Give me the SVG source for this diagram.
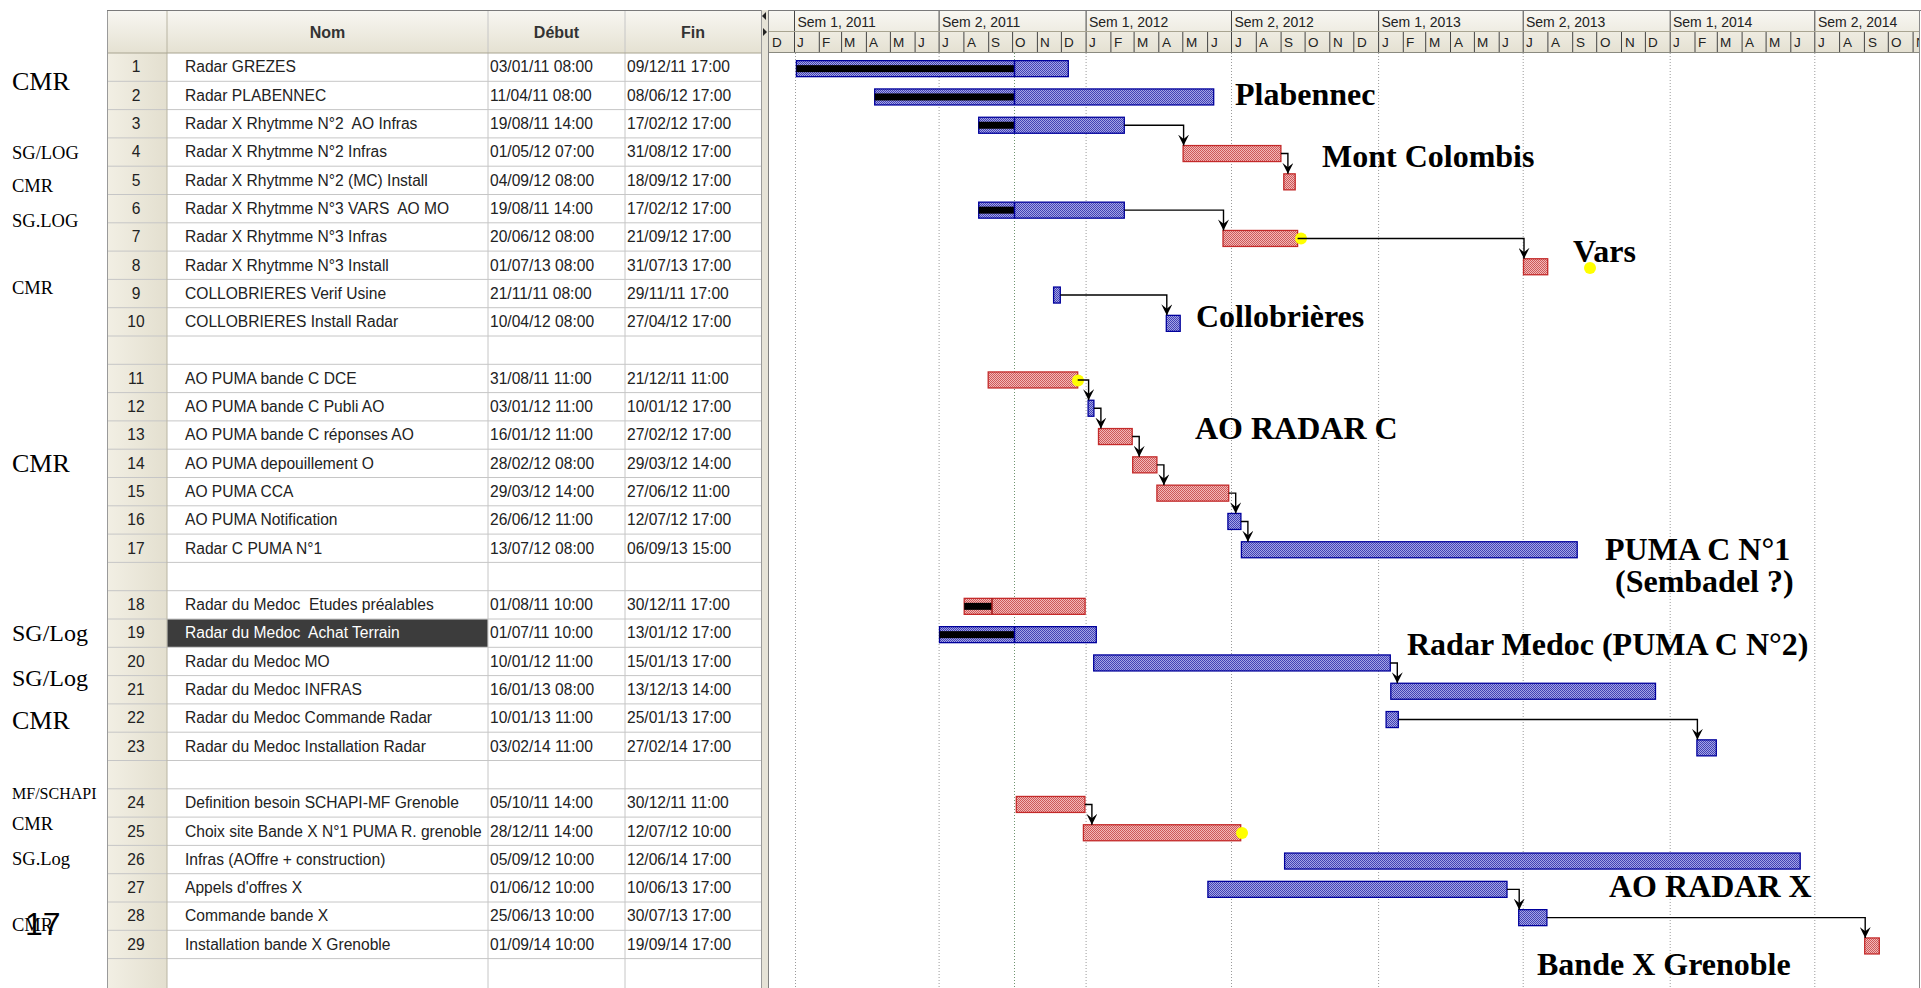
<svg xmlns="http://www.w3.org/2000/svg" width="1921" height="988" viewBox="0 0 1921 988">
<defs>
<style>
.t{font-family:"Liberation Sans",Arial,sans-serif;font-size:15.6px;fill:#222}
.n{text-anchor:middle}
.h{font-family:"Liberation Sans",Arial,sans-serif;font-weight:bold;font-size:16px;fill:#333;text-anchor:middle}
.lab{font-family:"Liberation Serif","Times New Roman",serif;fill:#000}
.big{font-family:"Liberation Serif","Times New Roman",serif;font-weight:bold;font-size:32px;fill:#000}
.sem{font-family:"Liberation Sans",Arial,sans-serif;font-size:14px;fill:#222}
.mon{font-family:"Liberation Sans",Arial,sans-serif;font-size:13.5px;fill:#222}
.grid{stroke:#c6c6c6;stroke-width:1}
.bb{fill:url(#pb);stroke:#00009c;stroke-width:1.3}
.br{fill:url(#pr);stroke:#c42a2a;stroke-width:1.3}
.prog{fill:#000}
.conn{fill:none;stroke:#000;stroke-width:1.4;marker-end:url(#arr)}
.vl{stroke:#9a9a9a;stroke-width:1;stroke-dasharray:1 2}
.tk{stroke:#444;stroke-width:1}
.dot{fill:#ffff00}
</style>
<pattern id="pb" width="2" height="2" patternUnits="userSpaceOnUse"><rect width="2" height="2" fill="#a4a4e6"/><rect width="1" height="1" fill="#4242b4"/><rect x="1" y="1" width="1" height="1" fill="#4242b4"/></pattern>
<pattern id="pr" width="2" height="2" patternUnits="userSpaceOnUse"><rect width="2" height="2" fill="#f4b8b8"/><rect width="1" height="1" fill="#cc5a5a"/><rect x="1" y="1" width="1" height="1" fill="#cc5a5a"/></pattern>
<linearGradient id="hg" x1="0" y1="0" x2="0" y2="1"><stop offset="0" stop-color="#f8f7f2"/><stop offset="1" stop-color="#e5e1d2"/></linearGradient>
<linearGradient id="ng" x1="0" y1="0" x2="1" y2="0"><stop offset="0" stop-color="#f2efe4"/><stop offset="1" stop-color="#e3dfcf"/></linearGradient>
<marker id="arr" viewBox="0 0 10 10" refX="10" refY="5" markerWidth="11" markerHeight="11" markerUnits="userSpaceOnUse" orient="auto"><path d="M0,0 L10,5 L0,10 L4,5 z" fill="#000"/></marker>
<clipPath id="gc"><rect x="769" y="10" width="1150" height="978"/></clipPath>
</defs>
<rect width="1921" height="988" fill="#fff"/>

<g id="table">
<rect x="107" y="53" width="60" height="935" fill="url(#ng)"/>
<rect x="107" y="10" width="654" height="43" fill="url(#hg)"/>
<g class="grid">
<line x1="107" y1="81.3" x2="761" y2="81.3"/><line x1="107" y1="109.6" x2="761" y2="109.6"/><line x1="107" y1="137.9" x2="761" y2="137.9"/><line x1="107" y1="166.2" x2="761" y2="166.2"/><line x1="107" y1="194.5" x2="761" y2="194.5"/><line x1="107" y1="222.8" x2="761" y2="222.8"/><line x1="107" y1="251.1" x2="761" y2="251.1"/><line x1="107" y1="279.4" x2="761" y2="279.4"/><line x1="107" y1="307.7" x2="761" y2="307.7"/><line x1="107" y1="336" x2="761" y2="336"/><line x1="107" y1="364.3" x2="761" y2="364.3"/><line x1="107" y1="392.6" x2="761" y2="392.6"/><line x1="107" y1="420.9" x2="761" y2="420.9"/><line x1="107" y1="449.2" x2="761" y2="449.2"/><line x1="107" y1="477.5" x2="761" y2="477.5"/><line x1="107" y1="505.8" x2="761" y2="505.8"/><line x1="107" y1="534.1" x2="761" y2="534.1"/><line x1="107" y1="562.4" x2="761" y2="562.4"/><line x1="107" y1="590.7" x2="761" y2="590.7"/><line x1="107" y1="619" x2="761" y2="619"/><line x1="107" y1="647.3" x2="761" y2="647.3"/><line x1="107" y1="675.6" x2="761" y2="675.6"/><line x1="107" y1="703.9" x2="761" y2="703.9"/><line x1="107" y1="732.2" x2="761" y2="732.2"/><line x1="107" y1="760.5" x2="761" y2="760.5"/><line x1="107" y1="788.8" x2="761" y2="788.8"/><line x1="107" y1="817.1" x2="761" y2="817.1"/><line x1="107" y1="845.4" x2="761" y2="845.4"/><line x1="107" y1="873.7" x2="761" y2="873.7"/><line x1="107" y1="902" x2="761" y2="902"/><line x1="107" y1="930.3" x2="761" y2="930.3"/><line x1="107" y1="958.6" x2="761" y2="958.6"/>
<line x1="488" y1="10" x2="488" y2="988"/><line x1="625" y1="10" x2="625" y2="988"/>
</g>
<line x1="167" y1="10" x2="167" y2="988" stroke="#b8b4a2"/>
<line x1="107" y1="53" x2="761" y2="53" stroke="#a8a490"/>
<line x1="107.5" y1="10" x2="107.5" y2="988" stroke="#9a9a9a"/>
<line x1="107" y1="10.5" x2="1921" y2="10.5" stroke="#7a7a7a"/>
<text class="h" x="327.5" y="37.5">Nom</text>
<text class="h" x="556.5" y="37.5">Début</text>
<text class="h" x="693" y="37.5">Fin</text>
<rect x="761" y="10" width="8" height="978" fill="#e6e3d7"/>
<line x1="761.5" y1="10" x2="761.5" y2="988" stroke="#9a9a9a"/>
<line x1="768.5" y1="10" x2="768.5" y2="988" stroke="#808080"/>
<path d="M766,12 L762,16 L766,20 z" fill="#222"/>
<path d="M763,28 L767,32 L763,36 z" fill="#222"/>
</g>

<g id="timescale">
<rect x="769" y="11" width="1150" height="41" fill="url(#hg)"/>
<line x1="769" y1="31.5" x2="1919" y2="31.5" stroke="#a8a490"/>
<line x1="769" y1="52.5" x2="1919" y2="52.5" stroke="#8a8a80"/>
<line x1="1919.5" y1="10" x2="1919.5" y2="988" stroke="#8a8a8a"/>
<g class="tk">
<line x1="794.5" y1="11" x2="794.5" y2="31"/><line x1="939.1" y1="11" x2="939.1" y2="31"/><line x1="1086.1" y1="11" x2="1086.1" y2="31"/><line x1="1231.5" y1="11" x2="1231.5" y2="31"/><line x1="1378.6" y1="11" x2="1378.6" y2="31"/><line x1="1523.2" y1="11" x2="1523.2" y2="31"/><line x1="1670.2" y1="11" x2="1670.2" y2="31"/><line x1="1814.8" y1="11" x2="1814.8" y2="31"/>
</g>
<text class="sem" x="797.5" y="27">Sem 1, 2011</text>
<text class="sem" x="942" y="27">Sem 2, 2011</text>
<text class="sem" x="1089" y="27">Sem 1, 2012</text>
<text class="sem" x="1234.5" y="27">Sem 2, 2012</text>
<text class="sem" x="1381.5" y="27">Sem 1, 2013</text>
<text class="sem" x="1526" y="27">Sem 2, 2013</text>
<text class="sem" x="1673" y="27">Sem 1, 2014</text>
<text class="sem" x="1818" y="27">Sem 2, 2014</text>
<g clip-path="url(#gc)">
<g class="tk">
<line x1="794.5" y1="32" x2="794.5" y2="52"/><line x1="819.3" y1="32" x2="819.3" y2="52"/><line x1="841.6" y1="32" x2="841.6" y2="52"/><line x1="866.4" y1="32" x2="866.4" y2="52"/><line x1="890.4" y1="32" x2="890.4" y2="52"/><line x1="915.1" y1="32" x2="915.1" y2="52"/><line x1="939.1" y1="32" x2="939.1" y2="52"/><line x1="963.9" y1="32" x2="963.9" y2="52"/><line x1="988.7" y1="32" x2="988.7" y2="52"/><line x1="1012.6" y1="32" x2="1012.6" y2="52"/><line x1="1037.4" y1="32" x2="1037.4" y2="52"/><line x1="1061.4" y1="32" x2="1061.4" y2="52"/>
<line x1="1086.1" y1="32" x2="1086.1" y2="52"/><line x1="1110.9" y1="32" x2="1110.9" y2="52"/><line x1="1134.1" y1="32" x2="1134.1" y2="52"/><line x1="1158.8" y1="32" x2="1158.8" y2="52"/><line x1="1182.8" y1="32" x2="1182.8" y2="52"/><line x1="1207.6" y1="32" x2="1207.6" y2="52"/><line x1="1231.5" y1="32" x2="1231.5" y2="52"/><line x1="1256.3" y1="32" x2="1256.3" y2="52"/><line x1="1281.1" y1="32" x2="1281.1" y2="52"/><line x1="1305.1" y1="32" x2="1305.1" y2="52"/><line x1="1329.8" y1="32" x2="1329.8" y2="52"/><line x1="1353.8" y1="32" x2="1353.8" y2="52"/>
<line x1="1378.6" y1="32" x2="1378.6" y2="52"/><line x1="1403.3" y1="32" x2="1403.3" y2="52"/><line x1="1425.7" y1="32" x2="1425.7" y2="52"/><line x1="1450.5" y1="32" x2="1450.5" y2="52"/><line x1="1474.4" y1="32" x2="1474.4" y2="52"/><line x1="1499.2" y1="32" x2="1499.2" y2="52"/><line x1="1523.2" y1="32" x2="1523.2" y2="52"/><line x1="1547.9" y1="32" x2="1547.9" y2="52"/><line x1="1572.7" y1="32" x2="1572.7" y2="52"/><line x1="1596.7" y1="32" x2="1596.7" y2="52"/><line x1="1621.5" y1="32" x2="1621.5" y2="52"/><line x1="1645.4" y1="32" x2="1645.4" y2="52"/>
<line x1="1670.2" y1="32" x2="1670.2" y2="52"/><line x1="1695" y1="32" x2="1695" y2="52"/><line x1="1717.3" y1="32" x2="1717.3" y2="52"/><line x1="1742.1" y1="32" x2="1742.1" y2="52"/><line x1="1766.1" y1="32" x2="1766.1" y2="52"/><line x1="1790.8" y1="32" x2="1790.8" y2="52"/><line x1="1814.8" y1="32" x2="1814.8" y2="52"/><line x1="1839.6" y1="32" x2="1839.6" y2="52"/><line x1="1864.4" y1="32" x2="1864.4" y2="52"/><line x1="1888.3" y1="32" x2="1888.3" y2="52"/><line x1="1913.1" y1="32" x2="1913.1" y2="52"/>
</g>
<g class="mon">
<text x="772" y="47">D</text>
<text x="797" y="47">J</text><text x="822" y="47">F</text><text x="844" y="47">M</text><text x="869" y="47">A</text><text x="893" y="47">M</text><text x="918" y="47">J</text><text x="942" y="47">J</text><text x="967" y="47">A</text><text x="991" y="47">S</text><text x="1015" y="47">O</text><text x="1040" y="47">N</text><text x="1064" y="47">D</text>
<text x="1089" y="47">J</text><text x="1114" y="47">F</text><text x="1137" y="47">M</text><text x="1162" y="47">A</text><text x="1186" y="47">M</text><text x="1211" y="47">J</text><text x="1235" y="47">J</text><text x="1259" y="47">A</text><text x="1284" y="47">S</text><text x="1308" y="47">O</text><text x="1333" y="47">N</text><text x="1357" y="47">D</text>
<text x="1382" y="47">J</text><text x="1406" y="47">F</text><text x="1429" y="47">M</text><text x="1454" y="47">A</text><text x="1477" y="47">M</text><text x="1502" y="47">J</text><text x="1526" y="47">J</text><text x="1551" y="47">A</text><text x="1576" y="47">S</text><text x="1600" y="47">O</text><text x="1625" y="47">N</text><text x="1648" y="47">D</text>
<text x="1673" y="47">J</text><text x="1698" y="47">F</text><text x="1720" y="47">M</text><text x="1745" y="47">A</text><text x="1769" y="47">M</text><text x="1794" y="47">J</text><text x="1818" y="47">J</text><text x="1843" y="47">A</text><text x="1868" y="47">S</text><text x="1891" y="47">O</text><text x="1916" y="47">N</text>
</g>
</g>
</g>

<g id="gridlines">
<line class="vl" x1="795.5" y1="53" x2="795.5" y2="988"/>
<line class="vl" x1="939.1" y1="53" x2="939.1" y2="988"/>
<line class="vl" x1="1086.1" y1="53" x2="1086.1" y2="988"/>
<line class="vl" x1="1231.5" y1="53" x2="1231.5" y2="988"/>
<line class="vl" x1="1378.6" y1="53" x2="1378.6" y2="988"/>
<line class="vl" x1="1523.2" y1="53" x2="1523.2" y2="988"/>
<line class="vl" x1="1670.2" y1="53" x2="1670.2" y2="988"/>
<line class="vl" x1="1814.8" y1="53" x2="1814.8" y2="988"/>
<line x1="1014.5" y1="53" x2="1014.5" y2="988" stroke="#6f956f" stroke-width="1" stroke-dasharray="1 2"/>
</g>

<g id="task-1"><text class="t n" x="136" y="72.45">1</text><text class="t" x="185" y="72.45">Radar GREZES</text><text class="t" x="490" y="72.45">03/01/11 08:00</text><text class="t" x="627" y="72.45">09/12/11 17:00</text>
<rect class="bb" x="796.4" y="60.65" width="271.9" height="16"/><rect class="prog" x="796.4" y="65.15" width="218.1" height="7"/><line x1="1014.5" y1="60.65" x2="1014.5" y2="76.65" stroke="#00009c" stroke-width="1.5"/></g>
<g id="task-2"><text class="t n" x="136" y="100.75">2</text><text class="t" x="185" y="100.75">Radar PLABENNEC</text><text class="t" x="490" y="100.75">11/04/11 08:00</text><text class="t" x="627" y="100.75">08/06/12 17:00</text>
<rect class="bb" x="874.7" y="88.95" width="339" height="16"/><rect class="prog" x="874.7" y="93.45" width="139.8" height="7"/><line x1="1014.5" y1="88.95" x2="1014.5" y2="104.95" stroke="#00009c" stroke-width="1.5"/></g>
<g id="task-3"><text class="t n" x="136" y="129.05">3</text><text class="t" x="185" y="129.05" xml:space="preserve">Radar X Rhytmme N°2  AO Infras</text><text class="t" x="490" y="129.05">19/08/11 14:00</text><text class="t" x="627" y="129.05">17/02/12 17:00</text>
<rect class="bb" x="978.7" y="117.25" width="145.6" height="16"/><rect class="prog" x="978.7" y="121.75" width="35.8" height="7"/><line x1="1014.5" y1="117.25" x2="1014.5" y2="133.25" stroke="#00009c" stroke-width="1.5"/></g>
<g id="task-4"><text class="t n" x="136" y="157.35">4</text><text class="t" x="185" y="157.35">Radar X Rhytmme N°2 Infras</text><text class="t" x="490" y="157.35">01/05/12 07:00</text><text class="t" x="627" y="157.35">31/08/12 17:00</text>
<rect class="br" x="1183.1" y="145.55" width="97.8" height="16"/></g>
<g id="task-5"><text class="t n" x="136" y="185.65">5</text><text class="t" x="185" y="185.65">Radar X Rhytmme N°2 (MC) Install</text><text class="t" x="490" y="185.65">04/09/12 08:00</text><text class="t" x="627" y="185.65">18/09/12 17:00</text>
<rect class="br" x="1283.8" y="173.85" width="11.4" height="16"/></g>
<g id="task-6"><text class="t n" x="136" y="213.95">6</text><text class="t" x="185" y="213.95" xml:space="preserve">Radar X Rhytmme N°3 VARS  AO MO</text><text class="t" x="490" y="213.95">19/08/11 14:00</text><text class="t" x="627" y="213.95">17/02/12 17:00</text>
<rect class="bb" x="978.7" y="202.15" width="145.6" height="16"/><rect class="prog" x="978.7" y="206.65" width="35.8" height="7"/><line x1="1014.5" y1="202.15" x2="1014.5" y2="218.15" stroke="#00009c" stroke-width="1.5"/></g>
<g id="task-7"><text class="t n" x="136" y="242.25">7</text><text class="t" x="185" y="242.25">Radar X Rhytmme N°3 Infras</text><text class="t" x="490" y="242.25">20/06/12 08:00</text><text class="t" x="627" y="242.25">21/09/12 17:00</text>
<rect class="br" x="1223" y="230.45" width="74.6" height="16"/></g>
<g id="task-8"><text class="t n" x="136" y="270.55">8</text><text class="t" x="185" y="270.55">Radar X Rhytmme N°3 Install</text><text class="t" x="490" y="270.55">01/07/13 08:00</text><text class="t" x="627" y="270.55">31/07/13 17:00</text>
<rect class="br" x="1523.5" y="258.75" width="24.2" height="16"/></g>
<g id="task-9"><text class="t n" x="136" y="298.85">9</text><text class="t" x="185" y="298.85">COLLOBRIERES Verif Usine</text><text class="t" x="490" y="298.85">21/11/11 08:00</text><text class="t" x="627" y="298.85">29/11/11 17:00</text>
<rect class="bb" x="1053.6" y="287.05" width="6.7" height="16"/></g>
<g id="task-10"><text class="t n" x="136" y="327.15">10</text><text class="t" x="185" y="327.15">COLLOBRIERES Install Radar</text><text class="t" x="490" y="327.15">10/04/12 08:00</text><text class="t" x="627" y="327.15">27/04/12 17:00</text>
<rect class="bb" x="1166.3" y="315.35" width="13.9" height="16"/></g>
<g id="task-11"><text class="t n" x="136" y="383.75">11</text><text class="t" x="185" y="383.75">AO PUMA bande C DCE</text><text class="t" x="490" y="383.75">31/08/11 11:00</text><text class="t" x="627" y="383.75">21/12/11 11:00</text>
<rect class="br" x="988.2" y="371.95" width="89.5" height="16"/></g>
<g id="task-12"><text class="t n" x="136" y="412.05">12</text><text class="t" x="185" y="412.05">AO PUMA bande C Publi AO</text><text class="t" x="490" y="412.05">03/01/12 11:00</text><text class="t" x="627" y="412.05">10/01/12 17:00</text>
<rect class="bb" x="1088.1" y="400.25" width="5.8" height="16"/></g>
<g id="task-13"><text class="t n" x="136" y="440.35">13</text><text class="t" x="185" y="440.35">AO PUMA bande C réponses AO</text><text class="t" x="490" y="440.35">16/01/12 11:00</text><text class="t" x="627" y="440.35">27/02/12 17:00</text>
<rect class="br" x="1098.5" y="428.55" width="33.7" height="16"/></g>
<g id="task-14"><text class="t n" x="136" y="468.65">14</text><text class="t" x="185" y="468.65">AO PUMA depouillement O</text><text class="t" x="490" y="468.65">28/02/12 08:00</text><text class="t" x="627" y="468.65">29/03/12 14:00</text>
<rect class="br" x="1132.7" y="456.85" width="24.2" height="16"/></g>
<g id="task-15"><text class="t n" x="136" y="496.95">15</text><text class="t" x="185" y="496.95">AO PUMA CCA</text><text class="t" x="490" y="496.95">29/03/12 14:00</text><text class="t" x="627" y="496.95">27/06/12 11:00</text>
<rect class="br" x="1156.9" y="485.15" width="71.8" height="16"/></g>
<g id="task-16"><text class="t n" x="136" y="525.25">16</text><text class="t" x="185" y="525.25">AO PUMA Notification</text><text class="t" x="490" y="525.25">26/06/12 11:00</text><text class="t" x="627" y="525.25">12/07/12 17:00</text>
<rect class="bb" x="1227.9" y="513.45" width="13" height="16"/></g>
<g id="task-17"><text class="t n" x="136" y="553.55">17</text><text class="t" x="185" y="553.55">Radar C PUMA N°1</text><text class="t" x="490" y="553.55">13/07/12 08:00</text><text class="t" x="627" y="553.55">06/09/13 15:00</text>
<rect class="bb" x="1241.4" y="541.75" width="335.8" height="16"/></g>
<g id="task-18"><text class="t n" x="136" y="610.15">18</text><text class="t" x="185" y="610.15" xml:space="preserve">Radar du Medoc  Etudes préalables</text><text class="t" x="490" y="610.15">01/08/11 10:00</text><text class="t" x="627" y="610.15">30/12/11 17:00</text>
<rect class="br" x="964.2" y="598.35" width="120.9" height="16"/><rect class="prog" x="964.2" y="602.85" width="27.8" height="7"/><line x1="992" y1="598.35" x2="992" y2="614.35" stroke="#a01818" stroke-width="1.5"/></g>
<g id="task-19"><rect x="167.5" y="619.5" width="320" height="27.3" fill="#3c3c3c"/><text class="t n" x="136" y="638.45">19</text><text class="t" x="185" y="638.45" style="fill:#fff" xml:space="preserve">Radar du Medoc  Achat Terrain</text><text class="t" x="490" y="638.45">01/07/11 10:00</text><text class="t" x="627" y="638.45">13/01/12 17:00</text>
<rect class="bb" x="939.5" y="626.65" width="156.8" height="16"/><rect class="prog" x="939.5" y="631.15" width="75" height="7"/><line x1="1014.5" y1="626.65" x2="1014.5" y2="642.65" stroke="#00009c" stroke-width="1.5"/></g>
<g id="task-20"><text class="t n" x="136" y="666.75">20</text><text class="t" x="185" y="666.75">Radar du Medoc MO</text><text class="t" x="490" y="666.75">10/01/12 11:00</text><text class="t" x="627" y="666.75">15/01/13 17:00</text>
<rect class="bb" x="1093.7" y="654.95" width="296.6" height="16"/></g>
<g id="task-21"><text class="t n" x="136" y="695.05">21</text><text class="t" x="185" y="695.05">Radar du Medoc INFRAS</text><text class="t" x="490" y="695.05">16/01/13 08:00</text><text class="t" x="627" y="695.05">13/12/13 14:00</text>
<rect class="bb" x="1390.8" y="683.25" width="264.7" height="16"/></g>
<g id="task-22"><text class="t n" x="136" y="723.35">22</text><text class="t" x="185" y="723.35">Radar du Medoc Commande Radar</text><text class="t" x="490" y="723.35">10/01/13 11:00</text><text class="t" x="627" y="723.35">25/01/13 17:00</text>
<rect class="bb" x="1386.1" y="711.55" width="12.2" height="16"/></g>
<g id="task-23"><text class="t n" x="136" y="751.65">23</text><text class="t" x="185" y="751.65">Radar du Medoc Installation Radar</text><text class="t" x="490" y="751.65">03/02/14 11:00</text><text class="t" x="627" y="751.65">27/02/14 17:00</text>
<rect class="bb" x="1696.9" y="739.85" width="19.4" height="16"/></g>
<g id="task-24"><text class="t n" x="136" y="808.25">24</text><text class="t" x="185" y="808.25">Definition besoin SCHAPI-MF Grenoble</text><text class="t" x="490" y="808.25">05/10/11 14:00</text><text class="t" x="627" y="808.25">30/12/11 11:00</text>
<rect class="br" x="1016.3" y="796.45" width="68.6" height="16"/></g>
<g id="task-25"><text class="t n" x="136" y="836.55">25</text><text class="t" x="185" y="836.55">Choix site Bande X N°1 PUMA R. grenoble</text><text class="t" x="490" y="836.55">28/12/11 14:00</text><text class="t" x="627" y="836.55">12/07/12 10:00</text>
<rect class="br" x="1083.4" y="824.75" width="157.3" height="16"/></g>
<g id="task-26"><text class="t n" x="136" y="864.85">26</text><text class="t" x="185" y="864.85">Infras (AOffre + construction)</text><text class="t" x="490" y="864.85">05/09/12 10:00</text><text class="t" x="627" y="864.85">12/06/14 17:00</text>
<rect class="bb" x="1284.6" y="853.05" width="515.6" height="16"/></g>
<g id="task-27"><text class="t n" x="136" y="893.15">27</text><text class="t" x="185" y="893.15">Appels d'offres X</text><text class="t" x="490" y="893.15">01/06/12 10:00</text><text class="t" x="627" y="893.15">10/06/13 17:00</text>
<rect class="bb" x="1207.9" y="881.35" width="299.1" height="16"/></g>
<g id="task-28"><text class="t n" x="136" y="921.45">28</text><text class="t" x="185" y="921.45">Commande bande X</text><text class="t" x="490" y="921.45">25/06/13 10:00</text><text class="t" x="627" y="921.45">30/07/13 17:00</text>
<rect class="bb" x="1518.7" y="909.65" width="28.2" height="16"/></g>
<g id="task-29"><text class="t n" x="136" y="949.75">29</text><text class="t" x="185" y="949.75">Installation bande X Grenoble</text><text class="t" x="490" y="949.75">01/09/14 10:00</text><text class="t" x="627" y="949.75">19/09/14 17:00</text>
<rect class="br" x="1864.7" y="937.95" width="14.6" height="16"/></g>

<g id="yellow-marks">
<circle class="dot" cx="1301" cy="238.5" r="6"/>
<circle class="dot" cx="1078" cy="380.5" r="6"/>
<circle class="dot" cx="1242" cy="833" r="6"/>
<circle class="dot" cx="1590" cy="268" r="6"/>
</g>

<g id="connectors">
<path class="conn" d="M1124.3,125.25 H1183.6 V145.55"/>
<path class="conn" d="M1280.9,153.55 H1287.9 V173.85"/>
<path class="conn" d="M1124.3,210.15 H1223.5 V230.45"/>
<path class="conn" d="M1297.6,238.45 H1524 V258.75"/>
<path class="conn" d="M1060.3,295.05 H1166.8 V315.35"/>
<path class="conn" d="M1077.7,379.95 H1088.6 V400.25"/>
<path class="conn" d="M1093.9,408.25 H1100.9 V428.55"/>
<path class="conn" d="M1132.2,436.55 H1139.2 V456.85"/>
<path class="conn" d="M1156.9,464.85 H1163.9 V485.15"/>
<path class="conn" d="M1228.7,493.15 H1235.7 V513.45"/>
<path class="conn" d="M1240.9,521.45 H1247.9 V541.75"/>
<path class="conn" d="M1390.3,662.95 H1397.3 V683.25"/>
<path class="conn" d="M1398.3,719.55 H1697.4 V739.85"/>
<path class="conn" d="M1084.9,804.45 H1091.9 V824.75"/>
<path class="conn" d="M1507,889.35 H1519.2 V909.65"/>
<path class="conn" d="M1546.9,917.65 H1865.2 V937.95"/>
</g>

<g id="chart-labels">
<text class="big" x="1235" y="105">Plabennec</text>
<text class="big" x="1322" y="167">Mont Colombis</text>
<text class="big" x="1573" y="262">Vars</text>
<text class="big" x="1196" y="327">Collobrières</text>
<text class="big" x="1195" y="439">AO RADAR C</text>
<text class="big" x="1605" y="560">PUMA C N°1</text>
<text class="big" x="1615" y="592">(Sembadel ?)</text>
<text class="big" x="1407" y="655">Radar Medoc (PUMA C N°2)</text>
<text class="big" x="1609" y="897">AO RADAR X</text>
<text class="big" x="1537" y="975">Bande X Grenoble</text>
</g>

<g id="owner-labels">
<text class="lab" x="12" y="90" font-size="26">CMR</text>
<text class="lab" x="12" y="159" font-size="18.5">SG/LOG</text>
<text class="lab" x="12" y="192" font-size="18.5">CMR</text>
<text class="lab" x="12" y="227" font-size="18.5">SG.LOG</text>
<text class="lab" x="12" y="294" font-size="18.5">CMR</text>
<text class="lab" x="12" y="472" font-size="26">CMR</text>
<text class="lab" x="12" y="641" font-size="24">SG/Log</text>
<text class="lab" x="12" y="686" font-size="24">SG/Log</text>
<text class="lab" x="12" y="729" font-size="26">CMR</text>
<text class="lab" x="12" y="798.5" font-size="16">MF/SCHAPI</text>
<text class="lab" x="12" y="830" font-size="18.5">CMR</text>
<text class="lab" x="12" y="865" font-size="18.5">SG.Log</text>
<text class="lab" x="12" y="931" font-size="18.5">CMR</text>
<text x="25" y="935" font-family="Liberation Sans, Arial, sans-serif" font-size="32" fill="#000">17</text>
</g>
</svg>
